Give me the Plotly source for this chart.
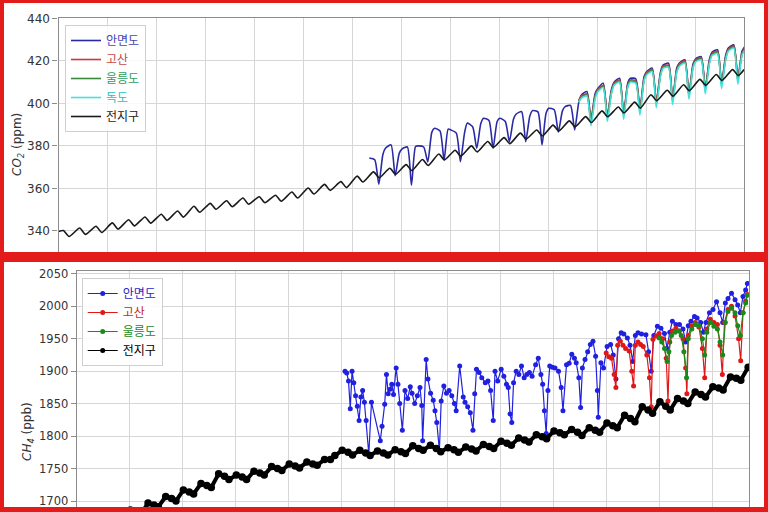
import plotly.graph_objects as go

# ---------------- CO2 (ppm) ----------------
# global mean: one spring maximum and one late-summer minimum per year
co2_global_years = list(range(1980, 2022))
co2_global_peak = [340.2, 341.4, 342.2, 343.8, 345.3, 346.6, 347.9, 349.4, 351.6, 353.0,
                   354.2, 355.5, 356.1, 356.8, 358.3, 360.2, 361.9, 363.2, 365.8, 367.8,
                   369.5, 371.2, 373.6, 376.2, 378.0, 380.0, 382.1, 383.9, 386.0, 387.5,
                   389.8, 391.8, 393.8, 396.5, 398.3, 400.6, 404.1, 406.2, 408.8, 411.3,
                   413.6, 415.9]
co2_global_low = [337.4, 338.4, 339.3, 340.9, 342.4, 343.7, 345.0, 346.5, 348.8, 350.2,
                  351.4, 352.6, 353.3, 354.0, 355.5, 357.4, 359.1, 360.4, 363.0, 365.0,
                  366.7, 368.4, 370.8, 373.4, 375.2, 377.2, 379.3, 381.1, 383.2, 384.7,
                  387.0, 389.0, 391.0, 393.7, 395.5, 397.8, 401.3, 403.4, 406.0, 408.5,
                  410.8, 413.1]
co2_global_first = 339.7   # Jan 1980
co2_global_last = 415.9    # Jan 2022

# Korean stations: Jan, May, Aug, Nov of each year
co2_months = [1, 5, 8, 11]
co2_amy_years = list(range(1999, 2022))
co2_amy = [
    [374.3, 373.5, 362.0, 376.0], [379.0, 380.5, 366.0, 376.5], [378.5, 379.5, 361.5, 379.7],
    [380.0, 379.5, 372.5, 386.5], [388.3, 387.0, 373.4, 387.9], [387.5, 386.0, 372.6, 386.0],
    [390.7, 389.0, 378.9, 390.5], [393.0, 392.0, 378.9, 391.5], [393.0, 391.5, 382.0, 392.5],
    [395.0, 396.1, 382.0, 394.0], [396.6, 396.0, 380.5, 395.5], [397.7, 397.0, 386.5, 396.5],
    [398.5, 399.0, 387.5, 400.5], [404.0, 405.6, 392.2, 404.5], [407.0, 409.5, 393.8, 406.5],
    [410.0, 411.8, 394.6, 409.5], [411.8, 411.5, 397.0, 412.5], [415.0, 416.6, 400.1, 414.5],
    [418.0, 418.9, 401.6, 416.5], [419.0, 420.5, 404.0, 418.5], [421.0, 422.0, 407.0, 420.5],
    [424.0, 425.2, 409.0, 422.5], [426.0, 427.5, 411.0, 424.5],
]
co2_amy_last = 426.7

co2_site_years = list(range(2012, 2022))
co2_gosan = [
    [403.5, 404.5, 392.5, 403.5], [406.5, 408.5, 394.5, 405.5], [409.5, 411.0, 395.5, 408.5],
    [411.0, 410.5, 397.5, 411.5], [414.5, 416.0, 401.0, 413.5], [417.5, 418.0, 402.5, 415.5],
    [418.5, 420.0, 405.0, 417.5], [420.5, 421.5, 407.5, 419.5], [423.5, 424.5, 410.0, 421.5],
    [425.5, 427.0, 412.0, 423.5],
]
co2_ulleung = [
    [403.0, 404.0, 391.0, 403.0], [406.0, 408.0, 393.0, 405.0], [409.0, 410.5, 394.0, 408.0],
    [410.5, 410.0, 396.0, 411.0], [414.0, 415.5, 399.5, 413.0], [417.0, 417.5, 401.0, 415.0],
    [418.0, 419.5, 403.5, 417.0], [420.0, 421.0, 406.0, 419.0], [423.0, 424.0, 408.5, 421.0],
    [425.0, 426.5, 410.5, 423.0],
]
co2_dokdo = [
    [402.5, 403.5, 389.5, 402.0], [405.5, 407.5, 391.5, 404.5], [408.5, 410.0, 392.5, 407.5],
    [410.0, 409.5, 394.5, 410.5], [413.5, 415.0, 398.0, 412.5], [416.5, 417.0, 399.5, 414.5],
    [417.5, 419.0, 402.0, 416.5], [419.5, 420.5, 404.5, 418.5], [422.5, 423.5, 407.0, 420.5],
    [424.5, 426.0, 409.0, 422.5],
]
co2_site_first = {"gosan": 401.5, "ulleung": 401.0, "dokdo": 400.5}   # Nov 2011
co2_site_last = {"gosan": 426.0, "ulleung": 425.5, "dokdo": 425.0}    # Jan 2022

# ---------------- CH4 (ppb) ----------------
ch4_months = [1, 5, 8]
ch4_global_years = list(range(1984, 2022))
ch4_global = [
    [1650, 1646, 1640], [1662, 1658, 1652], [1674, 1670, 1664], [1686, 1683, 1679],
    [1697, 1694, 1691], [1707, 1704, 1700], [1717, 1714, 1711], [1727, 1724, 1721],
    [1742, 1738, 1733], [1740, 1737, 1733], [1746, 1743, 1740], [1753, 1750, 1747],
    [1757, 1754, 1751], [1760, 1757, 1755], [1764, 1764, 1770], [1778, 1775, 1771],
    [1778, 1774, 1770], [1777, 1774, 1771], [1779, 1776, 1773], [1785, 1781, 1778],
    [1786, 1781, 1776], [1782, 1779, 1775], [1783, 1780, 1777], [1787, 1784, 1781],
    [1792, 1789, 1786], [1797, 1794, 1791], [1802, 1799, 1796], [1808, 1805, 1802],
    [1810, 1806, 1801], [1813, 1809, 1806], [1820, 1816, 1813], [1832, 1827, 1822],
    [1845, 1840, 1835], [1853, 1846, 1840], [1858, 1854, 1850], [1868, 1864, 1860],
    [1876, 1874, 1871], [1891, 1889, 1886],
]
ch4_global_last = 1906

ch4_amy_t = [1999.20, 1999.30, 1999.40, 1999.50, 1999.60, 1999.70, 1999.80, 1999.90, 2000.00,
             2000.10, 2000.20, 2000.30, 2000.40, 2000.55, 2000.70, 2001.20, 2001.30, 2001.45,
             2001.55, 2001.65, 2001.75, 2001.85, 2001.95, 2002.10, 2002.20, 2002.30, 2002.45,
             2002.60, 2002.75, 2002.90, 2003.00, 2003.15, 2003.30, 2003.45, 2003.55, 2003.60,
             2003.80, 2003.90, 2004.05, 2004.20, 2004.30, 2004.40, 2004.55, 2004.65, 2004.80,
             2004.95, 2005.10, 2005.25, 2005.40, 2005.50, 2005.70, 2005.90, 2006.00, 2006.15,
             2006.30, 2006.45, 2006.55, 2006.65, 2006.80, 2006.95, 2007.15, 2007.30, 2007.45,
             2007.60, 2007.70, 2007.85, 2008.05, 2008.20, 2008.35, 2008.45, 2008.55, 2008.65,
             2008.75, 2008.90, 2009.05, 2009.20, 2009.35, 2009.50, 2009.65, 2009.80, 2010.00,
             2010.15, 2010.30, 2010.40, 2010.50, 2010.60, 2010.70, 2010.80, 2010.95, 2011.10,
             2011.30, 2011.45, 2011.55, 2011.75, 2011.90, 2012.05, 2012.20, 2012.30, 2012.45,
             2012.55, 2012.65, 2012.80, 2012.95, 2013.10, 2013.25, 2013.40, 2013.50, 2013.55,
             2013.70, 2013.85, 2014.05, 2014.25, 2014.40, 2014.55, 2014.70, 2014.85, 2015.00,
             2015.20, 2015.35, 2015.50, 2015.65, 2015.80, 2016.00, 2016.25, 2016.40, 2016.55,
             2016.70, 2016.90, 2017.10, 2017.30, 2017.45, 2017.60, 2017.75, 2017.95, 2018.15,
             2018.35, 2018.50, 2018.65, 2018.80, 2019.00, 2019.15, 2019.35, 2019.50, 2019.65,
             2019.85, 2020.05, 2020.25, 2020.45, 2020.60, 2020.75, 2020.90, 2021.10, 2021.30,
             2021.45, 2021.60, 2021.75, 2021.90, 2022.00]
ch4_amy = [1900, 1897, 1885, 1842, 1900, 1882, 1862, 1846, 1824,
           1860, 1870, 1852, 1824, 1772, 1852, 1793, 1815, 1849,
           1895, 1865, 1872, 1880, 1864, 1905, 1880, 1850, 1809,
           1870, 1858, 1876, 1866, 1850, 1862, 1875, 1847, 1793,
           1918, 1888, 1866, 1855, 1839, 1821, 1778, 1854, 1877,
           1866, 1870, 1862, 1850, 1839, 1908, 1860, 1852, 1845,
           1836, 1809, 1865, 1903, 1898, 1890, 1882, 1885, 1870,
           1824, 1900, 1885, 1903, 1892, 1880, 1875, 1834, 1821,
           1882, 1900, 1895, 1908, 1890, 1895, 1898, 1892, 1910,
           1920, 1895, 1880, 1839, 1804, 1870, 1908, 1906, 1905,
           1900, 1875, 1839, 1910, 1912, 1926, 1920, 1913, 1890,
           1844, 1905, 1918, 1930, 1941, 1946, 1923, 1870, 1829,
           1913, 1905, 1938, 1941, 1925, 1888, 1950, 1959, 1957,
           1951, 1940, 1915, 1955, 1959, 1957, 1956, 1930, 1900,
           1955, 1969, 1966, 1958, 1935, 1960, 1977, 1972, 1972,
           1965, 1945, 1970, 1977, 1984, 1982, 1975, 1960, 1975,
           1990, 1995, 2007, 1990, 1975, 2005, 2012, 2020, 2010,
           2002, 1990, 2015, 2025, 2035]

ch4_gosan_t = [2014.00, 2014.15, 2014.30, 2014.45, 2014.55, 2014.65, 2014.80, 2014.95, 2015.10,
               2015.30, 2015.45, 2015.55, 2015.65, 2015.80, 2015.95, 2016.10, 2016.30, 2016.45,
               2016.55, 2016.65, 2016.85, 2017.00, 2017.20, 2017.40, 2017.50, 2017.60, 2017.75,
               2017.95, 2018.15, 2018.35, 2018.50, 2018.57, 2018.65, 2018.85, 2019.05, 2019.25,
               2019.45, 2019.58, 2019.70, 2019.90, 2020.10, 2020.30, 2020.45, 2020.58, 2020.70,
               2020.90, 2021.10, 2021.30, 2021.50, 2021.62, 2021.75, 2021.90, 2022.00]
ch4_gosan = [1928, 1922, 1920, 1895, 1875, 1940, 1946, 1940, 1935,
             1931, 1900, 1877, 1940, 1945, 1941, 1938, 1925, 1890,
             1845, 1949, 1954, 1958, 1950, 1920, 1854, 1945, 1962,
             1966, 1962, 1950, 1905, 1865, 1955, 1970, 1975, 1968,
             1935, 1890, 1965, 1980, 1975, 1972, 1940, 1895, 1975,
             1995, 2000, 1985, 1950, 1916, 1990, 2008, 2018]

ch4_ulleung_t = [2017.00, 2017.15, 2017.30, 2017.45, 2017.55, 2017.70, 2017.90, 2018.10, 2018.25,
                 2018.40, 2018.55, 2018.65, 2018.85, 2019.05, 2019.25, 2019.45, 2019.58, 2019.70,
                 2019.90, 2020.10, 2020.30, 2020.45, 2020.60, 2020.75, 2020.90, 2021.10, 2021.30,
                 2021.45, 2021.60, 2021.75, 2021.90, 2022.00]
ch4_ulleung = [1951, 1945, 1935, 1915, 1930, 1955, 1960, 1962, 1955,
               1930, 1890, 1950, 1965, 1972, 1970, 1950, 1925, 1960,
               1975, 1969, 1965, 1945, 1925, 1975, 1992, 1997, 1990,
               1970, 1955, 1990, 2005, 2017]


def seasonal(years, rows, months, first=None, first_x=None, last=None):
    """Flatten per-year rows into (decimal year, value) lists"""
    xs, ys = [], []
    if first is not None:
        xs.append(first_x)
        ys.append(first)
    for yr, row in zip(years, rows):
        for m, v in zip(months, row):
            xs.append(yr + (m - 0.5) / 12)
            ys.append(v)
    if last is not None:
        xs.append(years[-1] + 1 + 0.5 / 12)
        ys.append(last)
    return xs, ys


gx, gy = [1980.0], [co2_global_first]
for yr, p, lo in zip(co2_global_years, co2_global_peak, co2_global_low):
    gx += [yr + 0.30, yr + 0.65]
    gy += [p, lo]
gx.append(2022.0)
gy.append(co2_global_last)

amy_x, amy_y = seasonal(co2_amy_years, co2_amy, co2_months, last=co2_amy_last)
gos_x, gos_y = seasonal(co2_site_years, co2_gosan, co2_months,
                        co2_site_first["gosan"], 2011.87, co2_site_last["gosan"])
ull_x, ull_y = seasonal(co2_site_years, co2_ulleung, co2_months,
                        co2_site_first["ulleung"], 2011.87, co2_site_last["ulleung"])
dok_x, dok_y = seasonal(co2_site_years, co2_dokdo, co2_months,
                        co2_site_first["dokdo"], 2011.87, co2_site_last["dokdo"])
ch4g_x, ch4g_y = seasonal(ch4_global_years, ch4_global, ch4_months, last=ch4_global_last)


def label(text, color):
    return f"<span style='color:{color}'>{text}</span>"


fig = go.Figure()

# top panel: CO2
top = [
    (amy_x, amy_y, "#2a2aa5", label("안면도", "#4646b4")),
    (gos_x, gos_y, "#cc3a3a", label("고산", "#c84848")),
    (ull_x, ull_y, "#3a8a3a", label("울릉도", "#2e9e5e")),
    (dok_x, dok_y, "#48e0dc", label("독도", "#1fbfbf")),
    (gx, gy, "#1a1a1a", label("전지구", "#1a1a1a")),
]
for xs, ys, col, name in top:
    fig.add_trace(go.Scatter(x=xs, y=ys, mode="lines", name=name,
                             line=dict(color=col, width=1.6, shape="spline", smoothing=0.6),
                             xaxis="x", yaxis="y", legend="legend"))

# bottom panel: CH4
bottom = [
    (ch4_amy_t, ch4_amy, "#2020e0", label("안면도", "#2828c8"), 1.2, 5),
    (ch4_gosan_t, ch4_gosan, "#e01818", label("고산", "#c82828"), 1.2, 5),
    (ch4_ulleung_t, ch4_ulleung, "#1a8a1a", label("울릉도", "#1a8a1a"), 1.2, 5),
    (ch4g_x, ch4g_y, "#000000", label("전지구", "#000000"), 4, 7.5),
]
for xs, ys, col, name, lw, ms in bottom:
    thick = lw > 2
    fig.add_trace(go.Scatter(x=xs, y=ys, mode="lines+markers", name=name,
                             line=dict(color=col, width=lw),
                             marker=dict(color=col, size=ms),
                             showlegend=not thick,
                             xaxis="x2", yaxis="y2", legend="legend2"))
    if thick:
        # thin legend sample for the dense global series
        fig.add_trace(go.Scatter(x=[None], y=[None], mode="lines+markers", name=name,
                                 line=dict(color=col, width=1.2),
                                 marker=dict(color=col, size=5),
                                 xaxis="x2", yaxis="y2", legend="legend2"))

W, H = 768, 512
tick_font = dict(family="DejaVu Sans", size=12, color="#333333")
grid = "#d6d6d6"
spine = "#8c8c8c"
axis_common = dict(showgrid=True, gridcolor=grid, gridwidth=1, zeroline=False,
                   showline=True, mirror=True, linecolor=spine, linewidth=1.2,
                   automargin=False)

legend_common = dict(bgcolor="rgba(255,255,255,0.85)", bordercolor="#cfcfcf", borderwidth=1,
                     font=dict(family="Noto Sans CJK KR", size=12, color="#1a1a1a"),
                     xanchor="left", yanchor="top", tracegroupgap=0, itemwidth=30)

fig.update_layout(
    width=W, height=H,
    margin=dict(l=0, r=0, t=0, b=0),
    paper_bgcolor="white", plot_bgcolor="white",
    showlegend=True,
    xaxis=dict(domain=[58.5 / W, 744 / W], range=[1980, 2022], tick0=1980, dtick=3,
               showticklabels=False, ticks="", anchor="y", **axis_common),
    yaxis=dict(domain=[1 - 255 / H, 1 - 17.5 / H], range=[328.7, 440.4], dtick=20,
               tickfont=tick_font, ticks="outside", ticklen=5, tickcolor=spine,
               anchor="x", **axis_common),
    xaxis2=dict(domain=[76.7 / W, 749 / W], range=[1984, 2022.09], tick0=1984, dtick=3,
                showticklabels=False, ticks="", anchor="y2", **axis_common),
    yaxis2=dict(domain=[0, 1 - 271 / H], range=[1683.1, 2054.2], dtick=50,
                tickfont=dict(family="DejaVu Sans", size=11.5, color="#333333"),
                ticks="outside", ticklen=5, tickcolor=spine, anchor="x2", **axis_common),
    legend=dict(x=65 / W, y=1 - 25 / H, **legend_common),
    legend2=dict(x=81.7 / W, y=1 - 278 / H, **legend_common),
    annotations=[
        dict(text="<i>CO<sub>2</sub></i> (ppm)", x=18 / W, y=1 - 145 / H, xref="paper",
             yref="paper", textangle=-90, showarrow=False, xanchor="center", yanchor="middle",
             font=dict(family="DejaVu Sans", size=12, color="#333333")),
        dict(text="<i>CH<sub>4</sub></i> (ppb)", x=28 / W, y=1 - 432 / H, xref="paper",
             yref="paper", textangle=-90, showarrow=False, xanchor="center", yanchor="middle",
             font=dict(family="DejaVu Sans", size=12, color="#333333")),
    ],
)

# red frames around the two panels
red = "#e31b1b"
for x0, y0, x1, y1 in [(0, 0, 4, H), (764, 0, W, H), (0, 0, W, 3),
                       (0, 252, W, 262), (0, 507, W, H)]:
    fig.add_shape(type="rect", xref="paper", yref="paper", layer="above",
                  x0=x0 / W, x1=x1 / W, y0=1 - y1 / H, y1=1 - y0 / H,
                  line=dict(width=0), fillcolor=red)

# page body margin would otherwise shift the figure by 8px
fig.write_html("out.html", config={"displayModeBar": False},
               post_script="document.body.style.margin='0';"
                           "document.body.style.overflow='hidden';")
